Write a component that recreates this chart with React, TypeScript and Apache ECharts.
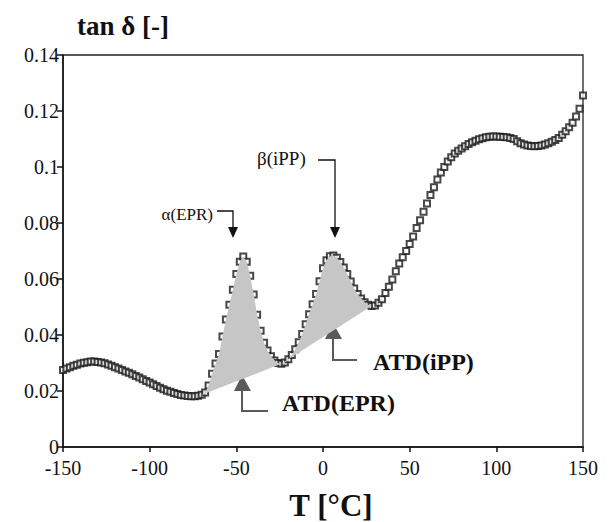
import React, { useEffect, useRef } from "react";
import * as echarts from "echarts";

const temperatures: number[] = [
  -150, -148, -146, -144, -142, -140, -138, -136, -134, -132, -130, -128, -126, -124, -122, -120,
  -118, -116, -114, -112, -110, -108, -106, -104, -102, -100, -98, -96, -94, -92, -90, -88, -86,
  -84, -82, -80, -78, -76, -74, -72, -70, -68, -66, -64, -62, -60, -58, -56, -54, -52, -50, -48,
  -46, -44, -42, -40, -38, -36, -34, -32, -30, -28, -26, -24, -22, -20, -18, -16, -14, -12, -10,
  -8, -6, -4, -2, 0, 2, 4, 6, 8, 10, 12, 14, 16, 18, 20, 22, 24, 26, 28, 30, 32, 34, 36, 38, 40,
  42, 44, 46, 48, 50, 52, 54, 56, 58, 60, 62, 64, 66, 68, 70, 72, 74, 76, 78, 80, 82, 84, 86, 88,
  90, 92, 94, 96, 98, 100, 102, 104, 106, 108, 110, 112, 114, 116, 118, 120, 122, 124, 126, 128,
  130, 132, 134, 136, 138, 140, 142, 144, 146, 148, 150,
];

const tanDelta: number[] = [
  0.0275, 0.028, 0.0285, 0.029, 0.0294, 0.0298, 0.0301, 0.0303, 0.0305, 0.0305, 0.0304, 0.0302,
  0.0299, 0.0295, 0.029, 0.0285, 0.028, 0.0275, 0.027, 0.0265, 0.026, 0.0254, 0.0248, 0.0242,
  0.0236, 0.023, 0.0224, 0.0218, 0.0212, 0.0206, 0.0201, 0.0197, 0.0193, 0.0189, 0.0186, 0.0184,
  0.0182, 0.0181, 0.0181, 0.0183, 0.0187, 0.0195, 0.022, 0.0262, 0.0298, 0.0332, 0.0395, 0.0455,
  0.0508, 0.0562, 0.0618, 0.0662, 0.068, 0.0662, 0.0612, 0.0545, 0.0472, 0.0415, 0.0372, 0.0345,
  0.0324, 0.0309, 0.03, 0.0297, 0.0302, 0.0313, 0.0329, 0.0349, 0.0374, 0.0404, 0.0438, 0.0474,
  0.051, 0.0546, 0.0592, 0.0638, 0.0667, 0.0681, 0.0684, 0.0676, 0.0661, 0.0641, 0.0618, 0.0591,
  0.0566, 0.0546, 0.053, 0.0517, 0.0508, 0.0504, 0.0505, 0.0515, 0.0528, 0.055, 0.0572, 0.0598,
  0.0628, 0.0655, 0.0678, 0.07, 0.0725, 0.0752, 0.0782, 0.081, 0.084, 0.087, 0.09, 0.0928, 0.0955,
  0.098, 0.1, 0.102, 0.1035, 0.1048, 0.1058, 0.1066, 0.1074, 0.1082, 0.1088, 0.1094, 0.1099,
  0.1103, 0.1106, 0.1108, 0.1109, 0.1109, 0.1108, 0.1107, 0.1106, 0.1104, 0.11, 0.1092, 0.1085,
  0.108, 0.1077, 0.1075, 0.1074, 0.1075, 0.1077, 0.108, 0.1085, 0.109, 0.1096, 0.1104, 0.1115,
  0.1128, 0.1142, 0.1158, 0.118, 0.1208, 0.1255,
];

// temperature ranges of the two shaded (ATD) areas
const alphaRange: [number, number] = [-70, -24];
const betaRange: [number, number] = [-24, 28];

const xTicks = { min: -150, max: 150, interval: 50 };
const yTicks = { min: 0, max: 0.14, interval: 0.02 };

const SERIF = "Liberation Serif";

export default function App() {
  const ref = useRef<HTMLDivElement>(null);

  useEffect(() => {
    if (!ref.current) return;
    const chart = echarts.init(ref.current, undefined, { renderer: "svg" });
    const points = temperatures.map((t, i) => [t, tanDelta[i]]);

    const arrowDark = "#111";
    const arrowGray = "#5a5a5a";

    chart.setOption({
      animation: false,
      backgroundColor: "#fff",
      textStyle: { fontFamily: SERIF },
      grid: {
        left: 63,
        right: 28,
        top: 55,
        bottom: 75,
        show: true,
        borderColor: "#222",
        borderWidth: 1.3,
      },
      xAxis: {
        type: "value",
        min: xTicks.min,
        max: xTicks.max,
        interval: xTicks.interval,
        axisLine: { show: true, onZero: false, lineStyle: { color: "#111", width: 1.5 } },
        axisTick: { show: true, length: 5, lineStyle: { color: "#111", width: 1.5 } },
        splitLine: { show: false },
        axisLabel: {
          color: "#111",
          fontFamily: SERIF,
          fontSize: 20,
          margin: 11,
        },
      },
      yAxis: {
        type: "value",
        min: yTicks.min,
        max: yTicks.max,
        interval: yTicks.interval,
        axisLine: { show: true, onZero: false, lineStyle: { color: "#111", width: 1.5 } },
        axisTick: { show: true, length: 6, lineStyle: { color: "#111", width: 1.5 } },
        splitLine: { show: false },
        axisLabel: {
          color: "#111",
          fontFamily: SERIF,
          fontSize: 20,
          margin: 4,
          formatter: (v: number) => String(+v.toFixed(2)),
        },
      },
      series: [
        {
          type: "scatter",
          data: points,
          symbol: "emptyRect",
          symbolSize: 6,
          z: 2,
          itemStyle: { color: "#1a1a1a", borderColor: "#1a1a1a", borderWidth: 1.8 },
        },
        {
          type: "custom",
          z: 3,
          data: [[0, 0.05]],
          renderItem: (_params: any, api: any) => {
            const poly = (range: [number, number]) =>
              points
                .filter((p) => p[0] >= range[0] && p[0] <= range[1])
                .map((p) => api.coord(p));
            return {
              type: "group",
              children: [
                { type: "polygon", shape: { points: poly(alphaRange) }, style: { fill: "#c6c6c6" } },
                { type: "polygon", shape: { points: poly(betaRange) }, style: { fill: "#c6c6c6" } },
              ],
            };
          },
        },
      ],
      graphic: [
        {
          type: "text",
          x: 77,
          y: 26,
          style: { text: "tan δ [-]", fontFamily: SERIF, fontSize: 27, fontWeight: "bold", fill: "#111", verticalAlign: "middle" },
        },
        {
          type: "text",
          x: 331,
          y: 505,
          style: {
            text: "T [°C]",
            fontFamily: SERIF,
            fontSize: 31,
            fontWeight: "bold",
            fill: "#111",
            align: "center",
            verticalAlign: "middle",
          },
        },
        // alpha(EPR) label and arrow
        {
          type: "text",
          x: 213,
          y: 214,
          style: { text: "α(EPR)", fontFamily: SERIF, fontSize: 17, fill: "#111", align: "right", verticalAlign: "middle" },
        },
        {
          type: "polyline",
          shape: { points: [[217, 211], [233, 211], [233, 229]] },
          style: { stroke: arrowDark, lineWidth: 1.3, fill: "none" },
        },
        { type: "polygon", shape: { points: [[228, 227], [238, 227], [233, 238]] }, style: { fill: arrowDark } },
        // beta(iPP) label and arrow
        {
          type: "text",
          x: 257,
          y: 158,
          style: { text: "β(iPP)", fontFamily: SERIF, fontSize: 19, fill: "#111", align: "left", verticalAlign: "middle" },
        },
        {
          type: "polyline",
          shape: { points: [[318, 160], [335, 160], [335, 229]] },
          style: { stroke: arrowDark, lineWidth: 1.3, fill: "none" },
        },
        { type: "polygon", shape: { points: [[330, 227], [340, 227], [335, 238]] }, style: { fill: arrowDark } },
        // ATD(iPP)
        {
          type: "text",
          x: 373,
          y: 362,
          style: { text: "ATD(iPP)", fontFamily: SERIF, fontSize: 24, fontWeight: "bold", fill: "#111", align: "left", verticalAlign: "middle" },
        },
        {
          type: "polyline",
          shape: { points: [[333, 336], [333, 360], [357, 360]] },
          style: { stroke: arrowGray, lineWidth: 2, fill: "none" },
        },
        { type: "polygon", shape: { points: [[325, 339], [342, 339], [333, 323]] }, style: { fill: arrowGray } },
        // ATD(EPR)
        {
          type: "text",
          x: 282,
          y: 403,
          style: { text: "ATD(EPR)", fontFamily: SERIF, fontSize: 24, fontWeight: "bold", fill: "#111", align: "left", verticalAlign: "middle" },
        },
        {
          type: "polyline",
          shape: { points: [[242, 388], [242, 411], [268, 411]] },
          style: { stroke: arrowGray, lineWidth: 2, fill: "none" },
        },
        { type: "polygon", shape: { points: [[234, 391], [251, 391], [242, 375]] }, style: { fill: arrowGray } },
      ],
    });

    return () => chart.dispose();
  }, []);

  return <div ref={ref} style={{ position: "fixed", left: 0, top: 0, width: 611, height: 522 }} />;
}
